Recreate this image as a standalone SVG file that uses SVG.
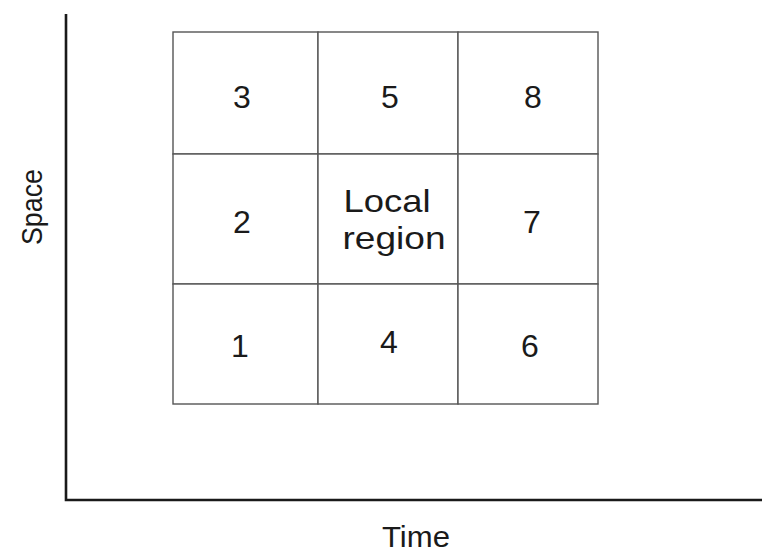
<svg xmlns="http://www.w3.org/2000/svg" width="762" height="553" viewBox="0 0 762 553">
<style>
.cell{fill:#fff;stroke:#555;stroke-width:1.4}
.lbl{font-family:"Liberation Sans","DejaVu Sans",sans-serif;font-size:32px;fill:#1a1a1a;text-anchor:middle}
.ax{font-family:"Liberation Sans","DejaVu Sans",sans-serif;font-size:30px;fill:#1a1a1a;text-anchor:middle}
.axis{stroke:#1a1a1a;stroke-width:2.6;fill:none}
</style>
<rect width="762" height="553" fill="#fff"/>
<g id="axes">
<path class="axis" d="M66,14 V500 H762"/>
</g>
<g id="cell-3"><rect class="cell" x="173" y="32" width="145" height="122"/><text class="lbl" x="242" y="108">3</text></g>
<g id="cell-5"><rect class="cell" x="318" y="32" width="140" height="122"/><text class="lbl" x="390" y="108">5</text></g>
<g id="cell-8"><rect class="cell" x="458" y="32" width="140" height="122"/><text class="lbl" x="533" y="108">8</text></g>
<g id="cell-2"><rect class="cell" x="173" y="154" width="145" height="130"/><text class="lbl" x="242" y="233">2</text></g>
<g id="cell-local"><rect class="cell" x="318" y="154" width="140" height="130"/><text class="lbl" x="387" y="212" textLength="87" lengthAdjust="spacingAndGlyphs">Local</text><text class="lbl" x="394" y="249" textLength="103" lengthAdjust="spacingAndGlyphs">region</text></g>
<g id="cell-7"><rect class="cell" x="458" y="154" width="140" height="130"/><text class="lbl" x="532" y="233">7</text></g>
<g id="cell-1"><rect class="cell" x="173" y="284" width="145" height="120"/><text class="lbl" x="240" y="357">1</text></g>
<g id="cell-4"><rect class="cell" x="318" y="284" width="140" height="120"/><text class="lbl" x="389" y="353">4</text></g>
<g id="cell-6"><rect class="cell" x="458" y="284" width="140" height="120"/><text class="lbl" x="530" y="357">6</text></g>
<text class="ax" x="416" y="547" textLength="68" lengthAdjust="spacingAndGlyphs">Time</text>
<text class="ax" transform="translate(42,207) rotate(-90)" x="0" y="0" textLength="76" lengthAdjust="spacingAndGlyphs">Space</text>
</svg>
